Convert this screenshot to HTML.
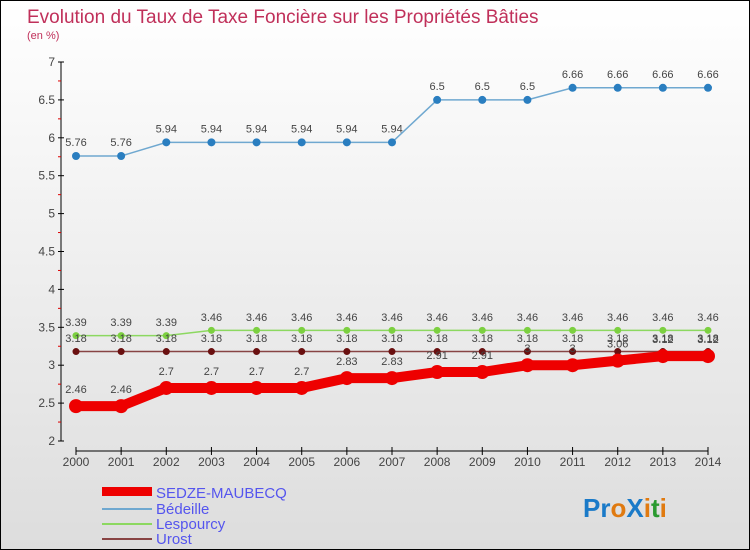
<!DOCTYPE html>
<html><head><meta charset="utf-8"><style>
body{margin:0;}
#c{width:750px;height:550px;position:relative;box-sizing:border-box;border:1px solid #000;background:linear-gradient(#fff,#ddd);font-family:"Liberation Sans",sans-serif;overflow:hidden}
</style></head><body>
<div id="c">
<svg id="s" width="748" height="548" style="position:absolute;left:0;top:0">
<text x="26" y="22" font-size="19" fill="#c0305a">Evolution du Taux de Taxe Foncière sur les Propriétés Bâties</text>
<text x="26" y="38" font-size="11" fill="#c0305a">(en %)</text>
<g id="ax"></g><g id="ser"></g>
<g>
<rect x="101" y="486" width="50" height="9" fill="#e00"/>
<text x="155" y="497" font-size="15" fill="#55e">SEDZE-MAUBECQ</text>
<line x1="101" y1="508" x2="151" y2="508" stroke="#6fa8d0" stroke-width="2"/>
<text x="155" y="513" font-size="15" fill="#55e">Bédeille</text>
<line x1="101" y1="523" x2="151" y2="523" stroke="#8cd860" stroke-width="2"/>
<text x="155" y="528" font-size="15" fill="#55e">Lespourcy</text>
<line x1="101" y1="538" x2="151" y2="538" stroke="#884444" stroke-width="2"/>
<text x="155" y="543" font-size="15" fill="#55e">Urost</text>
</g>
<text x="582" y="516" font-size="26" font-weight="bold"><tspan fill="#1a7ac8">Pr</tspan><tspan fill="#e07a10">o</tspan><tspan fill="#1a7ac8">X</tspan><tspan fill="#e07a10">i</tspan><tspan fill="#2a9a30">t</tspan><tspan fill="#e07a10">i</tspan></text>
</svg></div>
<script>
const years=[2000,2001,2002,2003,2004,2005,2006,2007,2008,2009,2010,2011,2012,2013,2014];
const sedze=[2.46,2.46,2.7,2.7,2.7,2.7,2.83,2.83,2.91,2.91,3,3,3.06,3.12,3.12];
const bedeille=[5.76,5.76,5.94,5.94,5.94,5.94,5.94,5.94,6.5,6.5,6.5,6.66,6.66,6.66,6.66];
const lespourcy=[3.39,3.39,3.39,3.46,3.46,3.46,3.46,3.46,3.46,3.46,3.46,3.46,3.46,3.46,3.46];
const urost=[3.18,3.18,3.18,3.18,3.18,3.18,3.18,3.18,3.18,3.18,3.18,3.18,3.18,3.18,3.18];
const yTicks=[2,2.5,3,3.5,4,4.5,5,5.5,6,6.5,7];
const NS="http://www.w3.org/2000/svg";
function X(i){return 75+i*(707-75)/(years.length-1);}
function Y(v){return 440-(v-2)*(440-61)/5;}
function mk(t,a,p){const e=document.createElementNS(NS,t);for(const k in a)e.setAttribute(k,a[k]);p.appendChild(e);return e;}
const ax=document.getElementById('ax'),ser=document.getElementById('ser');
let l=mk('line',{x1:60,y1:61,x2:60,y2:440,stroke:'#000'},ax);


l=mk('line',{x1:75,y1:450,x2:707,y2:450,stroke:'#000'},ax);


yTicks.forEach((v,i)=>{
 mk('line',{x1:57,y1:Y(v),x2:63,y2:Y(v),stroke:'#000'},ax);
 if(i<yTicks.length-1)mk('line',{x1:57,y1:Y(v+0.25),x2:60,y2:Y(v+0.25),stroke:'#d00'},ax);
 const t=mk('text',{x:54,y:Y(v)+4,'font-size':12,fill:'#444','text-anchor':'end'},ax);t.textContent=String(v);
 
 
});
years.forEach((y,i)=>{
 mk('line',{x1:X(i),y1:446,x2:X(i),y2:454,stroke:'#000'},ax);
 const t=mk('text',{x:X(i),y:465,'font-size':12,fill:'#444','text-anchor':'middle'},ax);t.textContent=y;
 
 
});
function series(d,col,w,r,name,dcol){
 const g=mk('g',{},ser);
 
 
 mk('polyline',{points:d.map((v,i)=>X(i)+','+Y(v)).join(' '),fill:'none',stroke:col,'stroke-width':w},g);
 d.forEach((v,i)=>{
  const c=mk('circle',{cx:X(i),cy:Y(v),r:r,fill:dcol},g);
  
  
  const t=mk('text',{x:X(i),y:Y(v)-(r+6),'font-size':11,fill:'#444','text-anchor':'middle'},g);t.textContent=String(v);
 });
}
series(bedeille,'#6fa8d0',1.5,4,'bedeille','#2a7ec0');
series(lespourcy,'#8cd860',1.5,3.5,'lespourcy','#7cd040');
series(urost,'#884444',1.5,3.5,'urost','#6a1010');
series(sedze,'#e00',10,7,'sedze','#e00');
</script>
</body></html>
